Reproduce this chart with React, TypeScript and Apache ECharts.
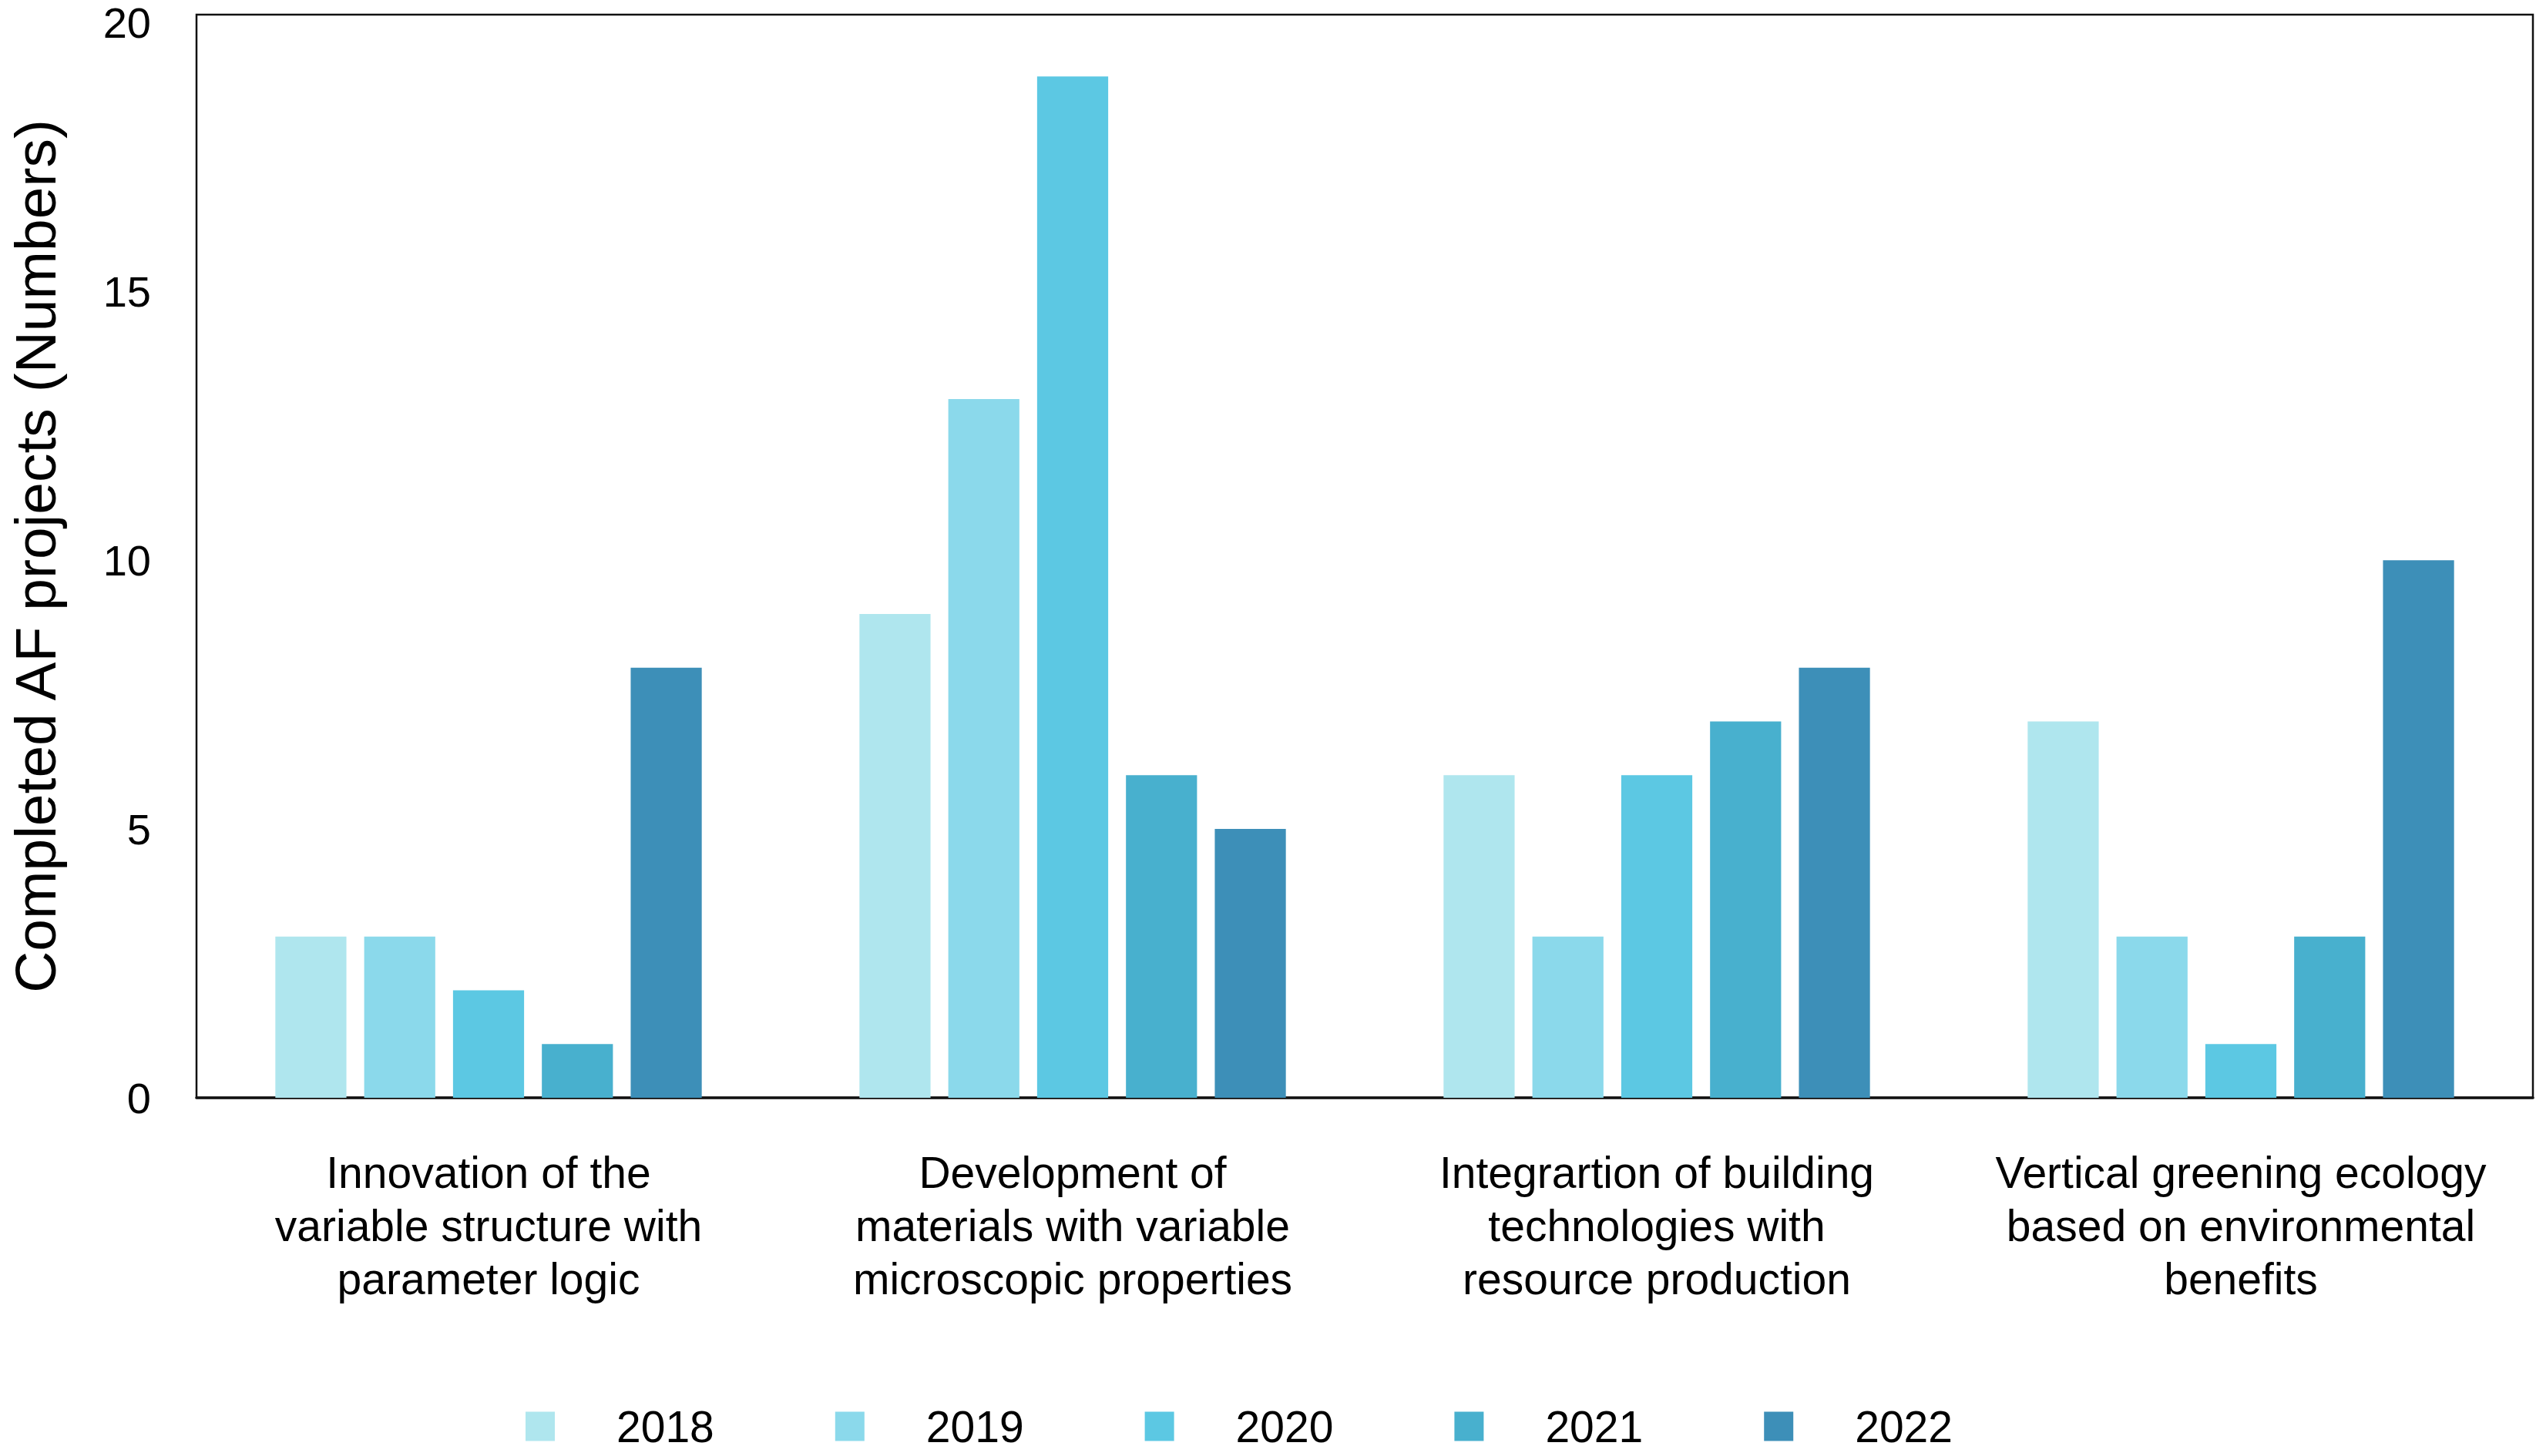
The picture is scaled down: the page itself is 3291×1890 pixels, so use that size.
import React, { useEffect, useRef } from "react";
import * as echarts from "echarts";

const categories = [
  "Innovation of the\nvariable structure with\nparameter logic",
  "Development of\nmaterials with variable\nmicroscopic properties",
  "Integrartion of building\ntechnologies with\nresource production",
  "Vertical greening ecology\nbased on environmental\nbenefits",
];
const years = ["2018", "2019", "2020", "2021", "2022"];
const values2018 = [3, 9, 6, 7];
const values2019 = [3, 13, 3, 3];
const values2020 = [2, 19, 6, 1];
const values2021 = [1, 6, 7, 3];
const values2022 = [8, 5, 8, 10];
const seriesValues = [values2018, values2019, values2020, values2021, values2022];
const colors = ["#afe6ee", "#8bd9eb", "#5cc8e3", "#48b0ce", "#3d8fb8"];
const yTitle = "Completed AF projects (Numbers)";

const FONT = "'Liberation Sans', Arial, Helvetica, sans-serif";

export default function App() {
  const ref = useRef<HTMLDivElement>(null);
  useEffect(() => {
    document.body.style.margin = "0";
    if (!ref.current) return;
    const chart = echarts.init(ref.current, null, { renderer: "svg" });
    chart.setOption({
      animation: false,
      backgroundColor: "#ffffff",
      textStyle: { fontFamily: FONT },
      grid: {
        left: 252,
        right: 4,
        top: 19,
        bottom: 465,
        show: true,
        borderColor: "#111111",
        borderWidth: 2.5,
        containLabel: false,
      },
      legend: {
        data: years,
        left: 677,
        top: 1818,
        itemWidth: 38,
        itemHeight: 38,
        itemGap: 157,
        icon: "rect",
        textStyle: {
          fontSize: 57,
          color: "#000000",
          fontFamily: FONT,
          padding: [0, 0, 0, 75],
        },
      },
      xAxis: {
        type: "category",
        data: categories,
        axisLine: { show: true, lineStyle: { color: "#111111", width: 3.5 } },
        axisTick: { show: false },
        axisLabel: {
          interval: 0,
          fontSize: 57,
          lineHeight: 69,
          color: "#000000",
          margin: 62,
          fontFamily: FONT,
        },
        splitLine: { show: false },
      },
      yAxis: {
        type: "value",
        min: 0,
        max: 20.15,
        interval: 5,
        name: yTitle,
        nameLocation: "middle",
        nameGap: 172,
        nameRotate: 90,
        nameTextStyle: { fontSize: 75, color: "#000000", fontFamily: FONT },
        axisLine: { show: false },
        axisTick: { show: false },
        splitLine: { show: false },
        axisLabel: {
          fontSize: 56,
          lineHeight: 56,
          color: "#000000",
          margin: 59,
          fontFamily: FONT,
          showMaxLabel: false,
        },
      },
      series: years.map((y, i) => ({
        name: y,
        type: "bar",
        data: seriesValues[i],
        barGap: "25%",
        barCategoryGap: "27%",
        itemStyle: { color: colors[i] },
      })),
    });
    return () => chart.dispose();
  }, []);
  return <div ref={ref} style={{ width: 3291, height: 1890 }} />;
}
